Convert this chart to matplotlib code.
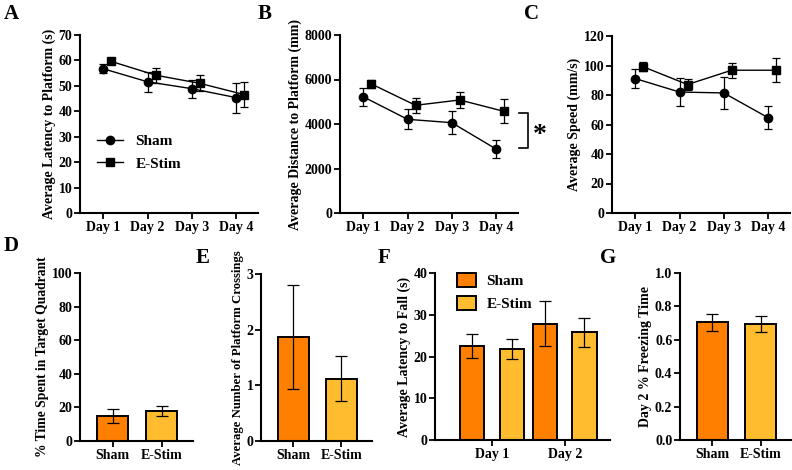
import numpy as np
import matplotlib.pyplot as plt
from matplotlib.lines import Line2D

plt.rcParams['font.family'] = ['Liberation Serif', 'DejaVu Serif']
plt.rcParams['font.weight'] = 'bold'
plt.rcParams['axes.labelweight'] = 'bold'

# ---- data ----
days = ['Day 1', 'Day 2', 'Day 3', 'Day 4']

lat_sham = [56.7, 51.6, 48.9, 45.4]
lat_sham_err = [1.8, 3.9, 3.5, 5.9]
lat_stim = [59.6, 54.2, 51.0, 46.6]
lat_stim_err = [0.6, 3.0, 3.1, 4.9]

dist_sham = [5220, 4210, 4060, 2880]
dist_sham_err = [420, 450, 520, 390]
dist_stim = [5800, 4840, 5080, 4570]
dist_stim_err = [200, 350, 360, 540]

speed_sham = [91.1, 82.0, 81.4, 64.7]
speed_sham_err = [6.3, 9.3, 11.1, 7.6]
speed_stim = [99.1, 87.1, 96.8, 96.8]
speed_stim_err = [3.1, 3.5, 5.0, 8.0]

groups = ['Sham', 'E-Stim']
quad_time = [15.0, 18.0]
quad_err = [4.1, 2.9]
crossings = [1.87, 1.12]
crossings_err = [0.93, 0.40]
fall_days = ['Day 1', 'Day 2']
fall_sham = [22.5, 27.9]
fall_sham_err = [2.9, 5.4]
fall_stim = [21.9, 25.8]
fall_stim_err = [2.4, 3.5]
freeze = [0.705, 0.697]
freeze_err = [0.05, 0.048]

c_sham = '#FF7F00'
c_stim = '#FFBC2E'

W, H = 792, 470
fig = plt.figure(figsize=(W / 100, H / 100), dpi=100)


def px_axes(l, t, r, b):
    return fig.add_axes([l / W, 1 - b / H, (r - l) / W, (b - t) / H])


def style(ax):
    for s in ['top', 'right']:
        ax.spines[s].set_visible(False)
    for s in ['left', 'bottom']:
        ax.spines[s].set_linewidth(1.5)
    ax.tick_params(width=1.3, length=4, labelsize=10, pad=1.5)
    for lab in ax.get_xticklabels() + ax.get_yticklabels():
        lab.set_fontweight('bold')


def line_panel(ax, sham, sham_err, stim, stim_err, ymax, step, ylabel):
    x = np.arange(len(days))
    ax.errorbar(x, sham, yerr=sham_err, color='black', marker='o', ms=6,
                lw=1, elinewidth=0.9, capsize=3, capthick=0.9, label='Sham')
    ax.errorbar(x + 0.18, stim, yerr=stim_err, color='black', marker='s', ms=6,
                lw=1, elinewidth=0.9, capsize=3, capthick=0.9, label='E-Stim')
    ax.set_xlim(-0.53, 3.5)
    ax.set_ylim(0, ymax)
    ax.set_yticks(np.arange(0, ymax + step / 2, step))
    ax.set_xticks(x)
    ax.set_xticklabels(days)
    ax.set_ylabel(ylabel, fontsize=10, labelpad=2)
    style(ax)


axA = px_axes(80, 35, 258, 213)
line_panel(axA, lat_sham, lat_sham_err, lat_stim, lat_stim_err, 70, 10,
           'Average Latency to Platform (s)')
axA.legend(handles=[Line2D([], [], color='black', marker='o', ms=6, lw=1),
                    Line2D([], [], color='black', marker='s', ms=6, lw=1)],
           labels=['Sham', 'E-Stim'], loc='upper left',
           bbox_to_anchor=(0.02, 0.52), frameon=False, handlelength=1.7,
           prop={'weight': 'bold', 'size': 11}, labelspacing=0.6)

axB = px_axes(340, 35, 518, 213)
line_panel(axB, dist_sham, dist_sham_err, dist_stim, dist_stim_err, 8000, 2000,
           'Average Distance to Platform (mm)')
axB.plot([3.52, 3.72, 3.72, 3.52], [4494, 4494, 2921, 2921], color='black',
         lw=1.2, clip_on=False)
axB.text(4.0, 3500, '*', fontsize=20, ha='center', va='center', clip_on=False)

axC = px_axes(612, 36, 790, 213)
line_panel(axC, speed_sham, speed_sham_err, speed_stim, speed_stim_err, 120, 20,
           'Average Speed (mm/s)')


def bar_panel(ax, vals, errs, ymax, step, ylabel, fmt='{:g}', lsize=10):
    x = np.arange(len(groups))
    ax.bar(x, vals, width=0.64, color=[c_sham, c_stim], edgecolor='black',
           linewidth=1.4, zorder=2)
    ax.errorbar(x, vals, yerr=errs, fmt='none', ecolor='black', elinewidth=0.9,
                capsize=4.5, capthick=0.9, zorder=3)
    ax.set_xlim(-0.67, 1.64)
    ax.set_ylim(0, ymax)
    ticks = np.arange(0, ymax + step / 2, step)
    ax.set_yticks(ticks)
    ax.set_yticklabels([fmt.format(t) for t in ticks])
    ax.set_xticks(x)
    ax.set_xticklabels(groups)
    ax.set_ylabel(ylabel, fontsize=lsize, labelpad=2)
    style(ax)


axD = px_axes(80, 273, 193, 441)
bar_panel(axD, quad_time, quad_err, 100, 20, '% Time Spent in Target Quadrant',
          lsize=9.8)

axE = px_axes(261, 274, 372, 441)
bar_panel(axE, crossings, crossings_err, 3, 1,
          'Average Number of Platform Crossings', lsize=9.2)

axF = px_axes(435, 273, 610, 440)
xf = np.arange(len(fall_days))
axF.bar(xf - 0.27, fall_sham, width=0.33, color=c_sham, edgecolor='black',
        linewidth=1.4, label='Sham', zorder=2)
axF.bar(xf + 0.27, fall_stim, width=0.33, color=c_stim, edgecolor='black',
        linewidth=1.4, label='E-Stim', zorder=2)
axF.errorbar(xf - 0.27, fall_sham, yerr=fall_sham_err, fmt='none', ecolor='black',
             elinewidth=0.9, capsize=4.5, capthick=0.9, zorder=3)
axF.errorbar(xf + 0.27, fall_stim, yerr=fall_stim_err, fmt='none', ecolor='black',
             elinewidth=0.9, capsize=4.5, capthick=0.9, zorder=3)
axF.set_xlim(-0.78, 1.62)
axF.set_ylim(0, 40)
axF.set_yticks([0, 10, 20, 30, 40])
axF.set_xticks(xf)
axF.set_xticklabels(fall_days)
axF.set_ylabel('Average Latency to Fall (s)', fontsize=10, labelpad=2)
style(axF)
axF.legend(loc='upper left', bbox_to_anchor=(0.05, 1.08), frameon=False,
           prop={'weight': 'bold', 'size': 11}, handlelength=1.2,
           handleheight=1.0, labelspacing=0.5, handletextpad=0.7)

axG = px_axes(680, 273, 792, 440)
bar_panel(axG, freeze, freeze_err, 1.0, 0.2, 'Day 2 % Freezing Time',
          fmt='{:.1f}')

for lab, x, y in [('A', 4, 14), ('B', 258, 14), ('C', 524, 14),
                  ('D', 4, 246), ('E', 196, 258), ('F', 378, 258),
                  ('G', 600, 258)]:
    fig.text(x / W, 1 - y / H, lab, fontsize=15, fontweight='bold',
             va='center', ha='left')

fig.savefig('out.png', dpi=100)
